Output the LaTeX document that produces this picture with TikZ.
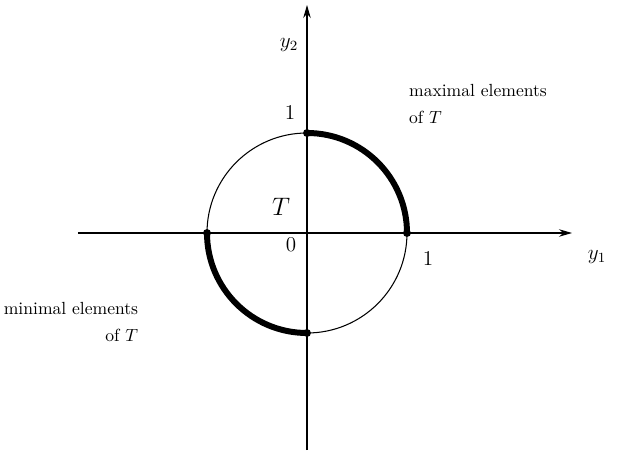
\documentclass[tikz,border=0pt]{standalone}
\usepackage{tikz}
\usetikzlibrary{arrows.meta,positioning}
\tikzset{
  axis/.style={-{Stealth[length=2.6mm,width=1.5mm]}, line width=0.6pt},
  rim/.style={line width=0.6pt},
  hull/.style={line width=3.4pt},
  tip/.style={circle, fill, inner sep=0pt, minimum size=4.5pt},
  lbl/.style={font=\normalsize, align=left},
}
\begin{document}
\begin{tikzpicture}[x=1cm, y=1cm]
  \useasboundingbox (-6.14,-4.56) rectangle (6.54,4.66);
  \coordinate (west) at (-4.58,0);
  \coordinate (east) at (5.30,0);
  \coordinate (south) at (0,-4.34);
  \coordinate (north) at (0,4.56);

  \draw[axis] (west) -- (east);
  \draw[axis] (south) -- (north);
  \draw[rim] (0,0) circle (2);
  \draw[hull] (0,2) arc (90:0:2);
  \draw[hull] (-2,0) arc (180:270:2);
  \node[tip] (top) at (0,2) {};
  \node[tip] (right) at (2,0) {};
  \node[tip] (left) at (-2,0) {};
  \node[tip] (bottom) at (0,-2) {};

  \node[font=\large] (ytwo) at (-0.36,3.76) {$y_2$};
  \node[font=\large] (yone) at (5.8,-0.48) {$y_1$};
  \node[font=\large] (onev) at (-0.34,2.42) {1};
  \node[font=\large] (oneh) at (2.42,-0.5) {1};
  \node[font=\large] (zero) at (-0.32,-0.24) {0};
  \node[font=\Large] (set) at (-0.52,0.52) {$T$};
  \node[lbl, align=left] (maxi) at (3.42,2.58) {maximal elements\\[3pt]of $T$};
  \node[lbl, align=right] (mini) at (-4.72,-1.78) {minimal elements\\[3pt]of $T$};
\end{tikzpicture}
\end{document}
